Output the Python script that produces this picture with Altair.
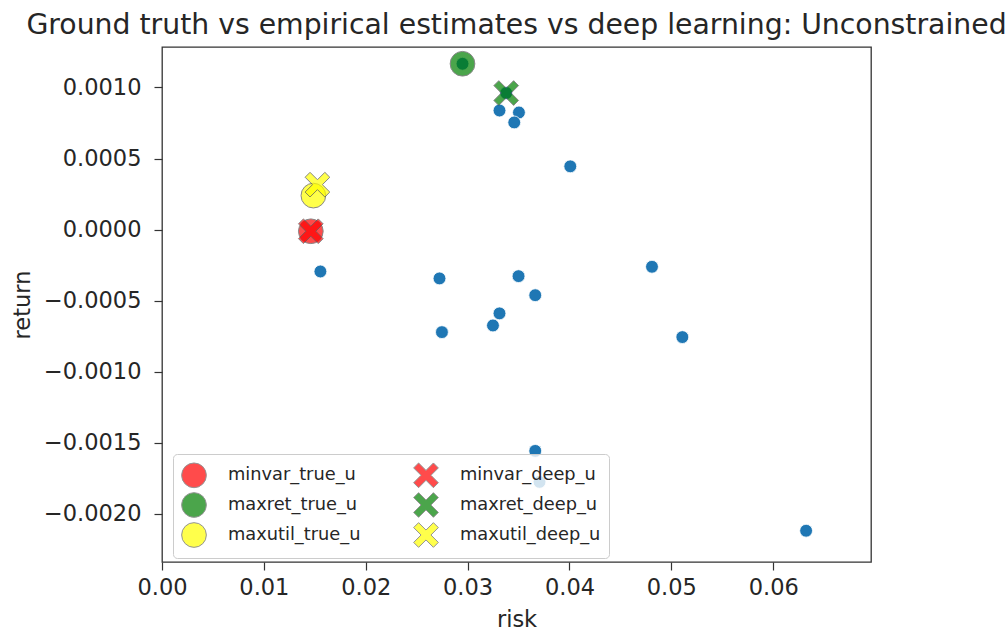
import altair as alt
import pandas as pd

# Empirical estimates (blue dots)
emp_risk = [0.03313, 0.03504, 0.03458, 0.04008, 0.01555, 0.02724, 0.03500, 0.03664,
            0.03313, 0.03249, 0.02748, 0.04810, 0.05108, 0.06323, 0.03664, 0.03706,
            0.02950, 0.03379]
emp_return = [0.000838, 0.000824, 0.000754, 0.000445, -0.000295, -0.000344, -0.000328, -0.000462,
              -0.000590, -0.000675, -0.000722, -0.000262, -0.000757, -0.002120, -0.001558, -0.001776,
              0.001167, 0.000961]

# Ground truth and deep learning portfolios
sp_names = ["minvar_true_u", "maxret_true_u", "maxutil_true_u",
            "minvar_deep_u", "maxret_deep_u", "maxutil_deep_u"]
sp_risk = [0.01461, 0.02950, 0.01486, 0.01461, 0.03379, 0.01526]
sp_return = [-0.0000119, 0.001167, 0.000239, -0.0000119, 0.000961, 0.000316]

legend_order = ["minvar_true_u", "maxret_true_u", "maxutil_true_u",
                "minvar_deep_u", "maxret_deep_u", "maxutil_deep_u"]
legend_colors = ["#ff0000", "#008000", "#ffff00", "#ff0000", "#008000", "#ffff00"]
X_PATH = ("M-1,-0.6 L-0.6,-1 L0,-0.4 L0.6,-1 L1,-0.6 L0.4,0 L1,0.6 L0.6,1 "
          "L0,0.4 L-0.6,1 L-1,0.6 L-0.4,0 Z")
legend_shapes = ["circle", "circle", "circle", X_PATH, X_PATH, X_PATH]

x_ticks = [0.0, 0.01, 0.02, 0.03, 0.04, 0.05, 0.06]
y_ticks = [-0.002, -0.0015, -0.001, -0.0005, 0.0, 0.0005, 0.001]

emp = pd.DataFrame({"risk": emp_risk, "return": emp_return})
sp = pd.DataFrame({"name": sp_names, "risk": sp_risk, "return": sp_return})

xs = alt.Scale(domain=[0, 0.0696], nice=False, zero=False)
ys = alt.Scale(domain=[-0.00234, 0.001285], nice=False, zero=False)

x_axis = alt.Axis(values=x_ticks, format=".2f", title="risk", titlePadding=10,
                  labelFlush=False)
y_axis = alt.Axis(values=y_ticks, format=".4f", title="return", titlePadding=9,
                  labelFlush=False)

base_emp = alt.Chart(emp).mark_circle(
    size=165, color="#1f77b4", opacity=1, stroke="white", strokeWidth=0.8
).encode(
    x=alt.X("risk:Q", scale=xs, axis=x_axis),
    y=alt.Y("return:Q", scale=ys, axis=y_axis),
)

special = alt.Chart(sp).mark_point(
    filled=True, opacity=0.7, stroke="#555555", strokeWidth=1
).encode(
    x=alt.X("risk:Q", scale=xs),
    y=alt.Y("return:Q", scale=ys),
    color=alt.Color(
        "name:N",
        scale=alt.Scale(domain=legend_order, range=legend_colors),
        legend=alt.Legend(
            title=None, orient="none", legendX=11, legendY=407, columns=2,
            symbolSize=529, symbolStrokeColor="#666666",
            symbolStrokeWidth=1, labelFontSize=17.8, labelColor="#262626",
            labelOffset=21, rowPadding=0, columnPadding=50, padding=8,
            fillColor="rgba(255,255,255,0.8)", strokeColor="#cccccc",
            cornerRadius=4, labelFont="DejaVu Sans",
        ),
    ),
    shape=alt.Shape(
        "name:N",
        scale=alt.Scale(domain=legend_order, range=legend_shapes),
    ),
    size=alt.Size("name:N", scale=alt.Scale(domain=legend_order,
                                            range=[610, 610, 610, 484, 484, 484]),
                  legend=None),
)

chart = alt.layer(base_emp, special).properties(
    width=709, height=515,
    autosize="none",
    padding={"left": 162, "top": 47, "right": 135, "bottom": 72},
    title=alt.TitleParams(
        "Ground truth vs empirical estimates vs deep learning: Unconstrained",
        fontSize=28.3, font="DejaVu Sans", fontWeight="normal", color="#262626",
        anchor="middle", offset=7,
    ),
).configure(
    font="DejaVu Sans",
).configure_view(
    stroke="#333333", strokeWidth=1.3,
).configure_axis(
    grid=False, domain=False, tickColor="#333333", tickSize=8, tickWidth=1.2,
    labelFontSize=22.5, labelColor="#262626", labelFont="DejaVu Sans",
    titleFontSize=22.5, titleFontWeight="normal", titleColor="#262626",
    titleFont="DejaVu Sans", labelPadding=6,
).configure_axisY(
    labelPadding=13,
)

chart.save("out.html", embed_options={"renderer": "svg", "actions": False})
